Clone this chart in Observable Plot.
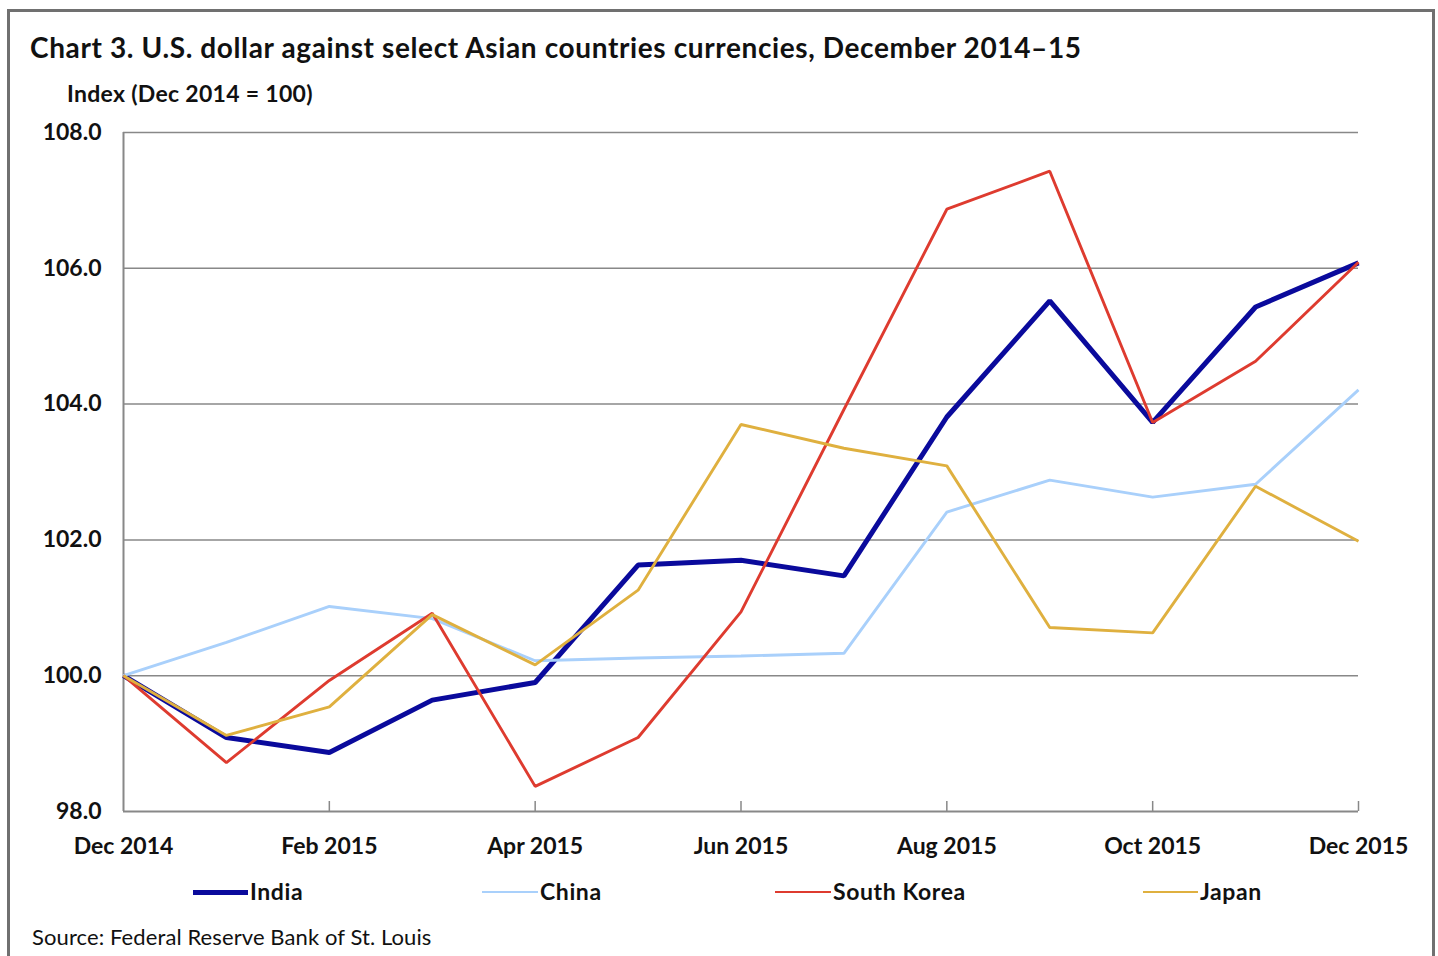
<!DOCTYPE html>
<html><head><meta charset="utf-8">
<script src="https://cdn.jsdelivr.net/npm/d3@7"></script>
<script src="https://cdn.jsdelivr.net/npm/@observablehq/plot@0.6"></script>
<style>
html,body{margin:0;padding:0;background:#fff;width:1438px;height:956px;overflow:hidden;font-family:Lato,sans-serif;color:#111;}
#frame{position:absolute;left:7px;top:9px;width:1422px;height:1000px;border:3px solid #707070;}
.t{position:absolute;white-space:nowrap;line-height:1;}
#title{left:30px;top:33px;font-size:28px;font-weight:700;letter-spacing:0.62px;}
#sub{left:67px;top:82px;font-size:23px;font-weight:700;letter-spacing:0.3px;}
#chart{position:absolute;left:0;top:110px;}
.lg{position:absolute;top:880px;font-size:23px;font-weight:700;line-height:23px;white-space:nowrap;letter-spacing:0.6px;}
.sw{position:absolute;height:0;}
#source{left:32px;top:926px;font-size:22px;font-weight:400;letter-spacing:0.1px;}
</style></head>
<body>
<div id="frame"></div>
<div class="t" id="title">Chart 3. U.S. dollar against select Asian countries currencies, December 2014–15</div>
<div class="t" id="sub">Index (Dec 2014 = 100)</div>
<div id="chart"></div>
<div id="legend"></div>
<div class="t" id="source">Source: Federal Reserve Bank of St. Louis</div>
<script>
const months = ["Dec 2014","Jan 2015","Feb 2015","Mar 2015","Apr 2015","May 2015","Jun 2015","Jul 2015","Aug 2015","Sep 2015","Oct 2015","Nov 2015","Dec 2015"];
const xTickLabels = ["Dec 2014","Feb 2015","Apr 2015","Jun 2015","Aug 2015","Oct 2015","Dec 2015"];
const yTicks = [98,100,102,104,106,108];
const seriesNames = ["India","China","South Korea","Japan"];
const seriesColors = ["#0a0a9c","#a9d0fb","#de3b2f","#dfb03f"];
const seriesWidths = [5,2.9,2.9,2.9];
const india = [100,99.09,98.87,99.64,99.90,101.63,101.70,101.47,103.81,105.52,103.73,105.43,106.08];
const china = [100,100.49,101.02,100.84,100.22,100.26,100.29,100.33,102.41,102.88,102.63,102.82,104.21];
const korea = [100,98.72,99.93,100.92,98.37,99.09,100.94,103.92,106.87,107.43,103.73,104.63,106.09];
const japan = [100,99.12,99.54,100.90,100.16,101.26,103.70,103.35,103.09,100.71,100.63,102.79,101.98];
const seriesValues = [india,china,korea,japan];

const gridColor = "#888888";
const lineMarks = seriesNames.map((name,i) =>
  Plot.line(months.map((m,j)=>({month:m, value:seriesValues[i][j]})),
    {x:"month", y:"value", stroke:seriesColors[i], strokeWidth:seriesWidths[i], strokeLinejoin:"miter", strokeLinecap:"butt"}));

const chart = Plot.plot({
  width:1438, height:751,
  marginLeft:123, marginRight:80, marginTop:22, marginBottom:50,
  style:{fontFamily:"Lato, sans-serif", fontSize:"23px", fontWeight:700, color:"#111", background:"transparent"},
  x:{type:"point", domain:months, padding:0, round:false},
  y:{domain:[98,108]},
  marks:[
    Plot.ruleY(yTicks.slice(1), {stroke:gridColor, strokeWidth:1.5}),
    Plot.ruleY([yTicks[0]], {stroke:gridColor, strokeWidth:2}),
    Plot.ruleX([months[0]], {stroke:gridColor, strokeWidth:2}),
    Plot.ruleX(xTickLabels.slice(1), {stroke:gridColor, strokeWidth:1.5, insetTop:669}),
    Plot.axisY({ticks:yTicks, tickSize:0, tickPadding:22, tickFormat:d3.format(".1f"), label:null}),
    Plot.axisX({ticks:xTickLabels, tickSize:0, tickPadding:26, label:null}),
    ...lineMarks
  ]
});
document.getElementById("chart").appendChild(chart);

const legendPos = [[193,250],[482,540],[775,833],[1143,1200]];
const lg = document.getElementById("legend");
seriesNames.forEach((name,i)=>{
  const sw = document.createElement("div");
  sw.className = "sw";
  sw.style.left = legendPos[i][0]+"px";
  sw.style.width = (legendPos[i][1]-2-legendPos[i][0])+"px";
  sw.style.top = (892 - seriesWidths[i]/2)+"px";
  sw.style.borderTop = seriesWidths[i]+"px solid "+seriesColors[i];
  lg.appendChild(sw);
  const t = document.createElement("div");
  t.className = "lg";
  t.style.left = legendPos[i][1]+"px";
  t.textContent = name;
  lg.appendChild(t);
});
</script>
</body></html>
